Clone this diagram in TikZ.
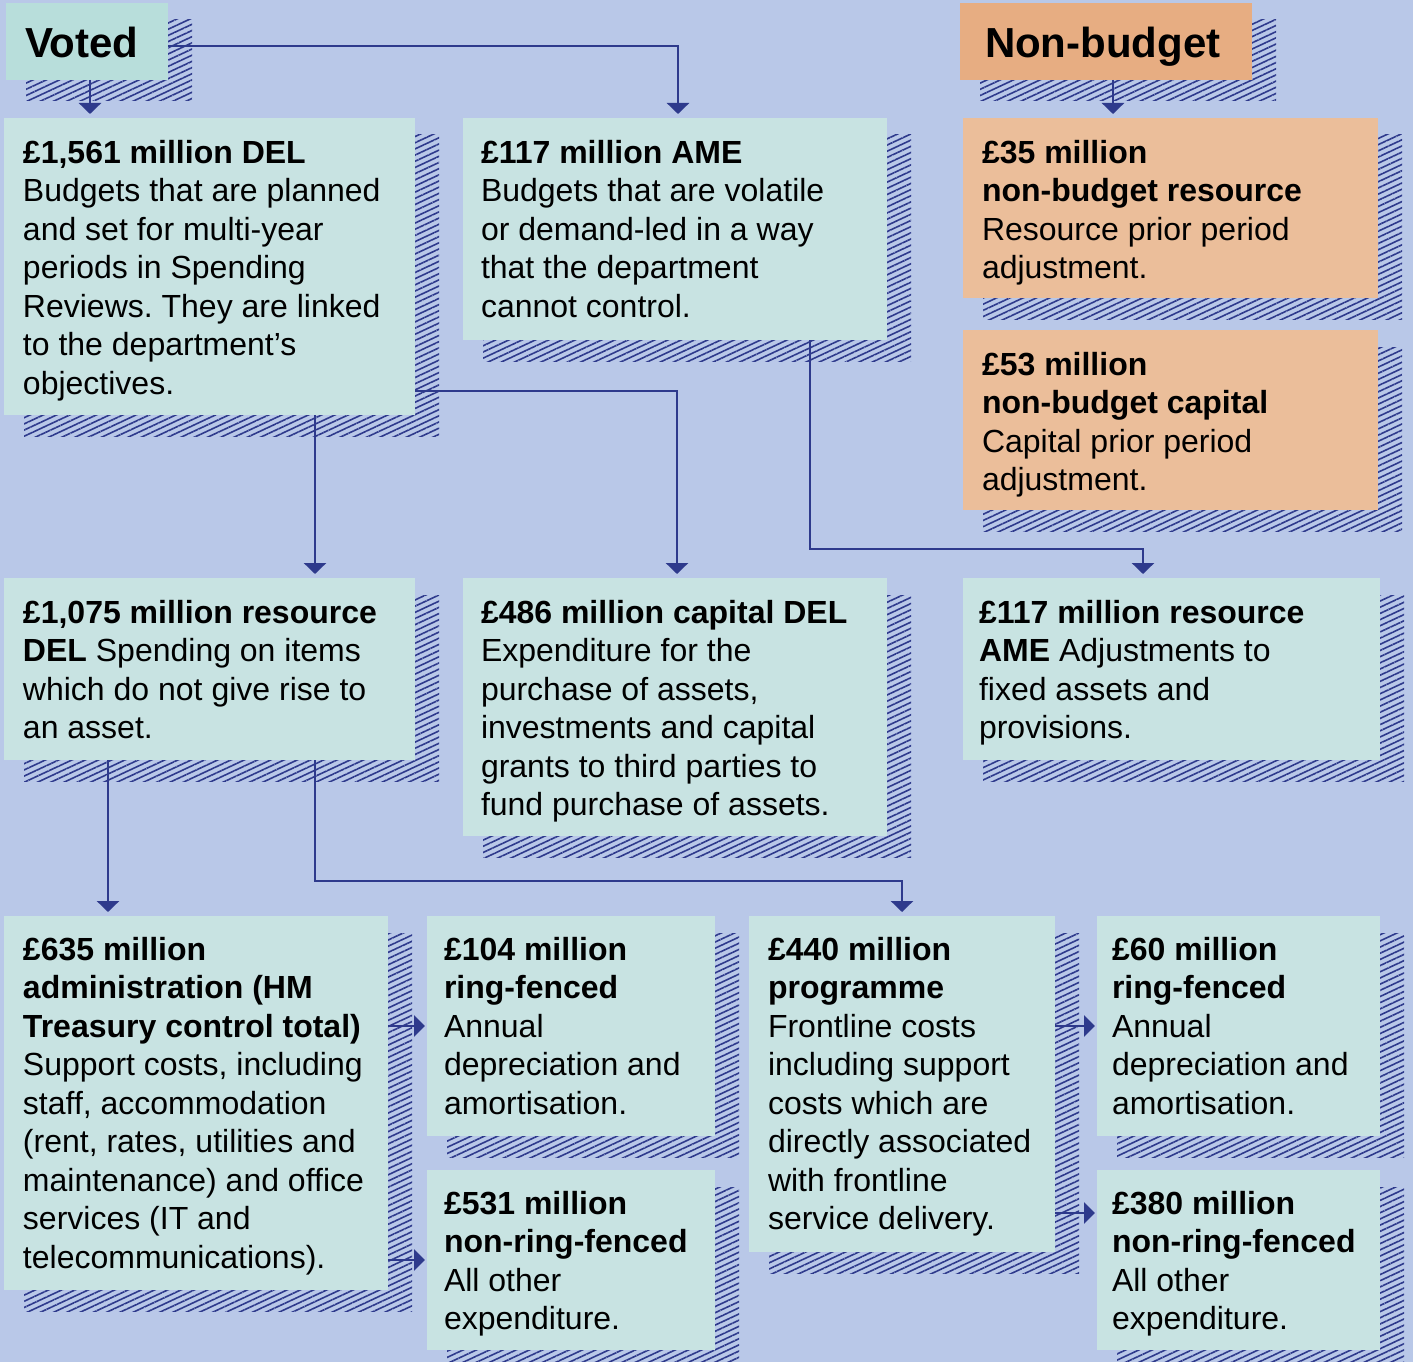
\documentclass[tikz,border=0pt]{standalone}
\usepackage{fontspec}
\setmainfont{Liberation Sans}
\usetikzlibrary{arrows.meta,patterns.meta,calc}
\definecolor{bgc}{HTML}{B9C8E8}
\definecolor{boxc}{HTML}{C8E3E2}
\definecolor{votedc}{HTML}{B8DEDB}
\definecolor{nbhead}{HTML}{E7AD82}
\definecolor{nbsub}{HTML}{EBBE9A}
\definecolor{navy}{HTML}{2E3A8C}
\frenchspacing
\tikzset{
  shadowpat/.style={pattern={Lines[angle=25,distance=5.6pt,line width=1.6pt]},pattern color=navy},
  boxstyle/.style={draw=none,inner sep=0pt,outer sep=0pt,anchor=north west},
  txt/.style={font=\fontsize{32}{38.5}\selectfont,align=left,inner sep=0pt,outer sep=0pt,text=black,anchor=north west},
  conn/.style={draw=navy,line width=2.7pt},
  varr/.style={conn,-{Triangle[width=22pt,length=11pt]},shorten >=4pt},
  harr/.style={conn,-{Triangle[width=21pt,length=11pt]},shorten >=2pt},
}
\newcommand{\mkbox}[9]{%
  \path[shadowpat] (#2+20,#3+17) rectangle (#2+#4+24,#3+#5+21);
  \node[boxstyle,fill=#6,minimum width=#4pt,minimum height=#5pt] (#1) at (#2,#3) {};
  \node[txt] (#1-t) at (#7,#8-30) {\rule{0pt}{30pt}#9};
}
\begin{document}
\begin{tikzpicture}[x=1pt,y=-1pt]
\fill[bgc] (0,0) rectangle (1413,1362);
\useasboundingbox (0,0) rectangle (1413,1362);

\mkbox{voted}{6}{3}{162}{77}{votedc}{25}{57}{\fontsize{42}{50}\selectfont\textbf{Voted}}
\mkbox{nb}{960}{3}{292}{77}{nbhead}{985}{57}{\fontsize{42}{50}\selectfont\textbf{Non-budget}}

\mkbox{del}{4}{118}{411}{297}{boxc}{23}{163}{\textbf{£1,561 million DEL}\\Budgets that are planned\\and set for multi-year\\periods in Spending\\Reviews. They are linked\\to the department’s\\objectives.}
\mkbox{ame}{463}{118}{424}{222}{boxc}{481}{163}{\textbf{£117 million AME}\\Budgets that are volatile\\or demand-led in a way\\that the department\\cannot control.}
\mkbox{nbr}{963}{118}{415}{180}{nbsub}{982}{163}{\textbf{£35 million}\\\textbf{non-budget resource}\\Resource prior period\\adjustment.}
\mkbox{nbc}{963}{330}{415}{180}{nbsub}{982}{375}{\textbf{£53 million}\\\textbf{non-budget capital}\\Capital prior period\\adjustment.}

\mkbox{rdel}{4}{578}{411}{182}{boxc}{23}{623}{\textbf{£1,075 million resource}\\\textbf{DEL} Spending on items\\which do not give rise to\\an asset.}
\mkbox{cdel}{463}{578}{424}{258}{boxc}{481}{623}{\textbf{£486 million capital DEL}\\Expenditure for the\\purchase of assets,\\investments and capital\\grants to third parties to\\fund purchase of assets.}
\mkbox{rame}{963}{578}{417}{182}{boxc}{979}{623}{\textbf{£117 million resource}\\\textbf{AME} Adjustments to\\fixed assets and\\provisions.}

\mkbox{admin}{4}{916}{384}{374}{boxc}{23}{960}{\textbf{£635 million}\\\textbf{administration (HM}\\\textbf{Treasury control total)}\\Support costs, including\\staff, accommodation\\(rent, rates, utilities and\\maintenance) and office\\services (IT and\\telecommunications).}
\mkbox{rf104}{427}{916}{288}{220}{boxc}{444}{960}{\textbf{£104 million}\\\textbf{ring-fenced}\\Annual\\depreciation and\\amortisation.}
\mkbox{nrf531}{427}{1170}{288}{180}{boxc}{444}{1214}{\textbf{£531 million}\\\textbf{non-ring-fenced}\\All other\\expenditure.}
\mkbox{prog}{749}{916}{306}{336}{boxc}{768}{960}{\textbf{£440 million}\\\textbf{programme}\\Frontline costs\\including support\\costs which are\\directly associated\\with frontline\\service delivery.}
\mkbox{rf60}{1097}{916}{283}{220}{boxc}{1112}{960}{\textbf{£60 million}\\\textbf{ring-fenced}\\Annual\\depreciation and\\amortisation.}
\mkbox{nrf380}{1097}{1170}{283}{180}{boxc}{1112}{1214}{\textbf{£380 million}\\\textbf{non-ring-fenced}\\All other\\expenditure.}

% connectors
\coordinate (xv) at (90,46);
\coordinate (xnb) at (1113,0);
\coordinate (x315) at (315,881);
\coordinate (x108) at (108,0);
\coordinate (dy) at (0,391);
\coordinate (amebend) at (810,549);
\coordinate (ramex) at (1143,0);
\coordinate (cdelx) at (677,0);
\coordinate (amex) at (678,0);
\coordinate (y380) at (0,1213);

\draw[varr] (xv |- voted.south) -- (xv |- del.north);
\draw[varr] (voted.east |- xv) -| (amex |- ame.north);
\draw[varr] (xnb |- nb.south) -- (xnb |- nbr.north);
\draw[varr] (x315 |- del.south) -- (x315 |- rdel.north);
\draw[varr] (del.east |- dy) -| (cdelx |- cdel.north);
\draw[varr] (amebend |- ame.south) -- (amebend) -| (ramex |- rame.north);
\draw[varr] (x108 |- rdel.south) -- (x108 |- admin.north);
\draw[varr] (x315 |- rdel.south) -- (x315) -| (prog.north);
\draw[harr] (admin.east |- rf104.west) -- (rf104.west);
\draw[harr] (admin.east |- nrf531.west) -- (nrf531.west);
\draw[harr] (prog.east |- rf60.west) -- (rf60.west);
\draw[harr] (prog.east |- y380) -- (nrf380.west |- y380);
\end{tikzpicture}
\end{document}
